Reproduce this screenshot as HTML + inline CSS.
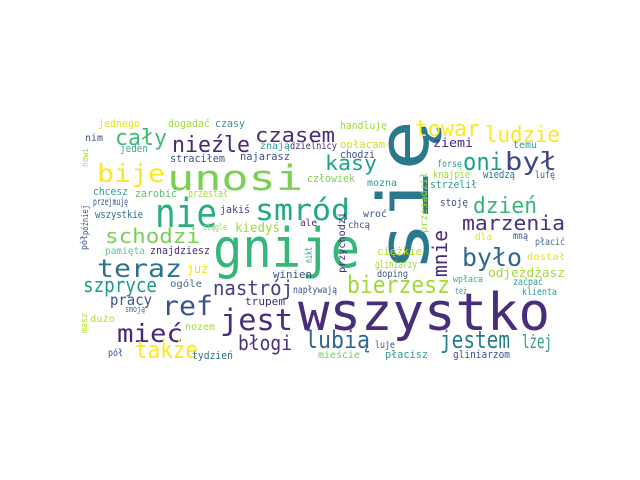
<!DOCTYPE html>
<html><head><meta charset="utf-8">
<style>
html,body{margin:0;padding:0;background:#fff;}
svg{display:block;}
text{font-family:"DejaVu Sans Mono","Liberation Mono",monospace;}
</style></head>
<body>
<svg id="cloud" width="640" height="480" viewBox="0 0 640 480" xmlns="http://www.w3.org/2000/svg">
<rect width="640" height="480" fill="#fff"/>
<g id="words"></g>
</svg>
<script>
const words = ["gnije","się","wszystko","unosi","bije","nie","smród","jest","ref","mieć","teraz","był","dzień","było","czasem","nieźle","cały","kasy","oni","towar","ludzie","marzenia","schodzi","szpryce","także","lubią","jestem","bierzesz","nastrój","błogi","lżej","mnie",
"jednego","dogadać","czasy","nim","jeden","straciłem","chcesz","zarobić","przestał","przejmuję","wszystkie","jakiś","ciągle","handluję","opłacam","znają","dzielnicy","najarasz","chodzi","człowiek","mozna","wroć","ale","chcą","ziemi","temu","forsę","knajpie","wiedzą","lufę","strzelił","stoję","pamięta","znajdziesz","już","ogóle","pracy","smoją","dużo","nozem","pół","tydzień","winien","ciężkie","gliniarzy","doping","napływają","trupem","luje","mieście","płacisz","dla","mną","płacić","dostał","odjeżdżasz","wpłaca","zaćpać","też","klienta","gliniarzom","kiedyś",
"nowi","później","pół","masz","przesądził","przychodzi","nikt"];
const fontSizes = [54,70,52,35,25,40,29,29,27,25,25,25,22,25,20,22,22,20,24,22,22,20,20,20,24,24,24,24,20,20,19,20,
11,11,11,10,11,11,11,11,11,10,11,11,9,11,11,10,10,11,11,11,10,10,10,10,12,10,10,11,11,10,11,11,10,11,12,10,15,9,10,10,10,11,11,11,11,10,10,11,10,10,11,10,10,10,10,12,9,10,9,10,11,13,
9,9,9,9,10,10,10];
const colors = ["#35b779","#2a788e","#472d7b","#7ad151","#fde725","#29af7f","#22a884","#472d7b","#3b528b","#482878","#2c728e","#414487","#35b779","#31688e","#472d7b","#482878","#3dbc74","#1fa187","#1fa187","#fde725","#fde725","#46327e","#7ad151","#1f9a8a","#fde725","#31688e","#287d8e","#a0da39","#433e85","#46327e","#2a9d8a","#482878",
"#e5e419","#a0da39","#4a8a8a","#3b528b","#3aaa8a","#3b528b","#2a9d8f","#5cbf70","#a5db36","#3b528b","#2c728e","#414487","#8fd744","#a0da39","#d2e21b","#2a9d8f","#482878","#3b528b","#3b528b","#7ad151","#2a9d8f","#3b528b","#482878","#3b528b","#482878","#2a9d8f","#2a9d8f","#a0da39","#2c728e","#3b528b","#2a9d8f","#3b528b","#5cc88a","#482878","#e5e419","#4a6a8a","#3b528b","#4a6a8a","#b5de2b","#a0da39","#3b528b","#2c728e","#3b528b","#b5de2b","#a0da39","#3b528b","#3b528b","#482878","#3b528b","#6ece58","#2a9d8f","#e5e419","#3b528b","#4a6a8a","#e5e419","#a0da39","#3aaa8a","#2a9d8f","#2a9d8f","#2a9d8f","#3b528b","#a0da39",
"#a0da39","#3b528b","#3b528b","#b5de2b","#a0da39","#482878","#2a9d8f"];
// layout: [left x, baseline y, text length, rotated]
const layout = [[213,267,147,0],[428,272,152,1],[298,330,252,0],[167,190,136,0],[97,182,68,0],[155,227,62,0],[255,220,95,0],[220,330,73,0],[162,315,51,0],[117,342,66,0],[97,277,85,0],[505,170,52,0],[473,213,64,0],[462,266,60,0],[255,142,80,0],[172,152,78,0],[115,145,52,0],[325,170,52,0],[463,170,40,0],[415,136,65,0],[485,142,75,0],[462,230,103,0],[105,243,95,0],[83,292,74,0],[135,358,63,0],[305,348,65,0],[440,348,70,0],[347,293,103,0],[213,295,80,0],[238,350,54,0],[522,348,30,0],[447,277,47,1],
[98,127,42,0],[168,127,42,0],[215,127,30,0],[85,141,18,0],[120,152,28,0],[170,162,55,0],[93,195,35,0],[135,197,42,0],[188,197,40,0],[93,205,35,0],[95,218,48,0],[220,213,30,0],[203,230,24,0],[340,129,47,0],[340,148,45,0],[260,149,30,0],[290,149,47,0],[240,160,50,0],[340,158,35,0],[307,182,48,0],[367,186,30,0],[363,217,24,0],[300,226,17,0],[348,228,22,0],[433,147,40,0],[513,148,24,0],[437,167,25,0],[433,178,37,0],[483,178,32,0],[535,178,20,0],[430,188,47,0],[440,206,28,0],[105,254,40,0],[150,254,60,0],[187,273,21,0],[170,287,32,0],[110,305,42,0],[125,312,20,0],[90,322,25,0],[185,330,30,0],[108,356,15,0],[192,359,41,0],[273,278,39,0],[377,255,45,0],[375,268,42,0],[377,277,31,0],[293,293,44,0],[245,305,40,0],[375,348,20,0],[318,358,42,0],[385,358,43,0],[475,240,17,0],[513,239,15,0],[535,245,30,0],[527,260,38,0],[488,277,77,0],[453,282,30,0],[513,285,30,0],[455,294,12,0],[522,295,35,0],[453,358,57,0],[235,232,45,0],
[88,167,19,1],[88,235,30,1],[87,250,15,1],[87,333,20,1],[427,233,61,1],[345,273,61,1],[312,263,16,1]];

const g = document.getElementById('words');
const NS = 'http://www.w3.org/2000/svg';
words.forEach((w, i) => {
  const t = document.createElementNS(NS, 'text');
  const L = layout[i];
  
  
  t.setAttribute('font-size', fontSizes[i]);
  t.setAttribute('fill', colors[i]);
  t.setAttribute('textLength', L[2]);
  t.setAttribute('lengthAdjust', 'spacingAndGlyphs');
  if (L[3]) {
    t.setAttribute('x', 0);
    t.setAttribute('y', 0);
    t.setAttribute('transform', 'translate(' + L[0] + ',' + L[1] + ') rotate(-90)');
  } else {
    t.setAttribute('x', L[0]);
    t.setAttribute('y', L[1]);
  }
  t.textContent = w;
  g.appendChild(t);
});
</script>
</body></html>
